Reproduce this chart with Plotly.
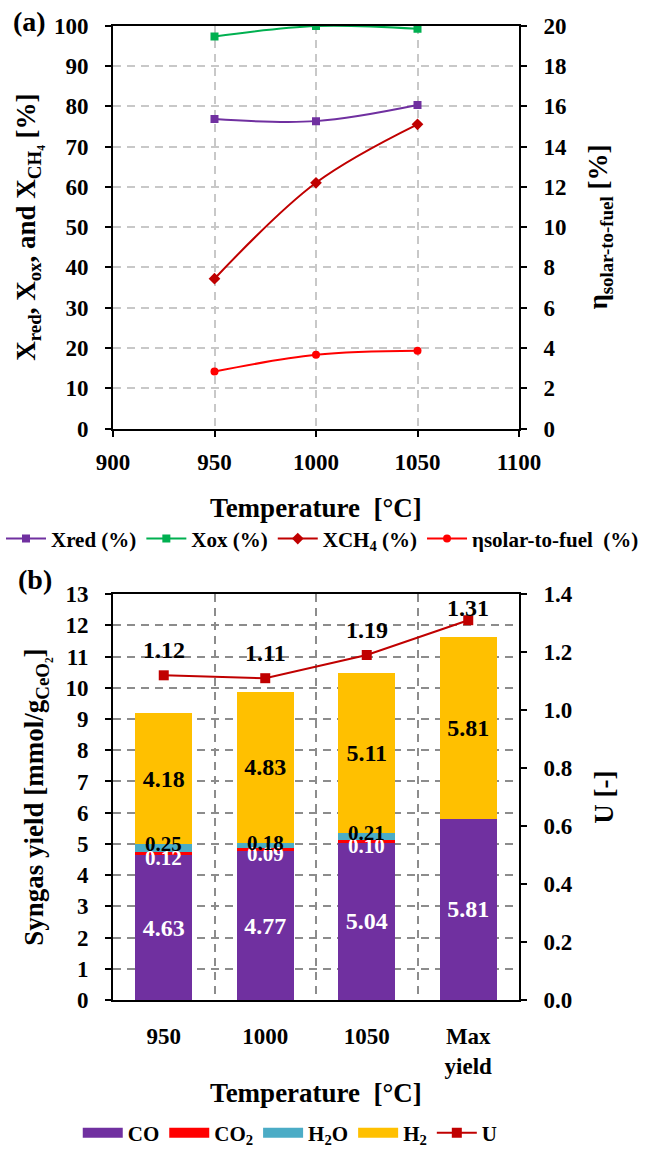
import plotly.graph_objects as go

# ---------------- data: panel (a) ----------------
temps_a = [950, 1000, 1050]
x_red = [76.8, 76.3, 80.3]
x_ox = [97.3, 99.9, 99.2]
x_ch4 = [37.2, 61.0, 75.5]
eta_stf = [2.83, 3.66, 3.86]

# ---------------- data: panel (b) ----------------
cats_b = ["950", "1000", "1050", "Max<br>yield"]
co = [4.63, 4.77, 5.04, 5.81]
co2 = [0.12, 0.09, 0.10, 0.0]
h2o = [0.25, 0.18, 0.21, 0.0]
h2 = [4.18, 4.83, 5.11, 5.81]
u_ratio = [1.12, 1.11, 1.19, 1.31]
u_label_shift = [25, 25, 25, 12]

PURPLE = "#7030A0"
GREEN = "#00B050"
DARKRED = "#C00000"
RED = "#FF0000"
TEAL = "#4BACC6"
GOLD = "#FFC000"
GRID_A = "#C8C8C8"
GRID_B = "#8C8C8C"
FONT = "'Liberation Serif', 'Times New Roman', Times, serif"

xpos = list(range(len(cats_b)))
bounds = [p + 0.5 for p in xpos[:-1]]

fig = go.Figure()

# ---- panel (a) traces ----
fig.add_trace(go.Scatter(x=temps_a, y=x_red, name="Xred (%)", mode="lines+markers",
                         line=dict(color=PURPLE, width=2, shape="spline"),
                         marker=dict(symbol="square", size=8, color=PURPLE),
                         xaxis="x", yaxis="y", legend="legend"))
fig.add_trace(go.Scatter(x=temps_a, y=x_ox, name="Xox (%)", mode="lines+markers",
                         line=dict(color=GREEN, width=2, shape="spline"),
                         marker=dict(symbol="square", size=8, color=GREEN),
                         xaxis="x", yaxis="y", legend="legend"))
fig.add_trace(go.Scatter(x=temps_a, y=x_ch4, name="XCH<sub>4</sub> (%)", mode="lines+markers",
                         line=dict(color=DARKRED, width=2, shape="spline"),
                         marker=dict(symbol="diamond", size=9, color=DARKRED),
                         xaxis="x", yaxis="y", legend="legend"))
fig.add_trace(go.Scatter(x=temps_a, y=eta_stf, name="ηsolar-to-fuel\u00a0 (%)", mode="lines+markers",
                         line=dict(color=RED, width=2, shape="spline"),
                         marker=dict(symbol="circle", size=8, color=RED),
                         xaxis="x", yaxis="y2", legend="legend"))

# ---- panel (b) bars ----
fig.add_trace(go.Bar(x=xpos, y=co, name="CO", marker=dict(color=PURPLE, line=dict(width=0)),
                     text=[f"{v:.2f}" for v in co], textposition="inside",
                     insidetextanchor="middle", textangle=0, constraintext="none",
                     textfont=dict(color="white", size=24, family=FONT, weight="bold"),
                     xaxis="x2", yaxis="y3", showlegend=False))
fig.add_trace(go.Bar(x=xpos, y=co2, name="CO<sub>2</sub>", marker=dict(color=RED, line=dict(width=0)),
                     xaxis="x2", yaxis="y3", showlegend=False))
fig.add_trace(go.Bar(x=xpos, y=h2o, name="H<sub>2</sub>O", marker=dict(color=TEAL, line=dict(width=0)),
                     xaxis="x2", yaxis="y3", showlegend=False))
fig.add_trace(go.Bar(x=xpos, y=h2, name="H<sub>2</sub>", marker=dict(color=GOLD, line=dict(width=0)),
                     text=[f"{v:.2f}" for v in h2], textposition="inside",
                     insidetextanchor="middle", textangle=0, constraintext="none",
                     textfont=dict(color="black", size=24, family=FONT, weight="bold"),
                     xaxis="x2", yaxis="y3", showlegend=False))

# U line on right axis
fig.add_trace(go.Scatter(x=xpos, y=u_ratio, name="U", mode="lines+markers",
                         line=dict(color=DARKRED, width=2),
                         marker=dict(symbol="square", size=10, color=DARKRED),
                         xaxis="x2", yaxis="y4", showlegend=False))

# legend entries for panel (b) (wide colour keys)
for nm, col in [("CO", PURPLE), ("CO<sub>2</sub>", RED), ("H<sub>2</sub>O", TEAL), ("H<sub>2</sub>", GOLD)]:
    fig.add_trace(go.Scatter(x=[None], y=[None], name=nm, mode="lines",
                             line=dict(color=col, width=11),
                             xaxis="x2", yaxis="y3", legend="legend2"))
fig.add_trace(go.Scatter(x=[None], y=[None], name="U", mode="lines+markers",
                         line=dict(color=DARKRED, width=2),
                         marker=dict(symbol="square", size=10, color=DARKRED),
                         xaxis="x2", yaxis="y3", legend="legend2"))

annotations = []
# small-segment labels (CO2 below its segment, H2O at top of its segment)
for p, a, b, w in zip(xpos, co, co2, h2o):
    if b > 0:
        annotations.append(dict(x=p, y=a, xref="x2", yref="y3", text=f"{b:.2f}", showarrow=False,
                                yshift=-3, yanchor="middle",
                                font=dict(size=21, color="white", family=FONT, weight="bold")))
    if w > 0:
        annotations.append(dict(x=p, y=a + b + w, xref="x2", yref="y3", text=f"{w:.2f}", showarrow=False,
                                yshift=0, yanchor="middle",
                                font=dict(size=21, color="black", family=FONT, weight="bold")))
for p, u, s in zip(xpos, u_ratio, u_label_shift):
    annotations.append(dict(x=p, y=u, xref="x2", yref="y4", text=f"{u:.2f}", showarrow=False,
                            yshift=s, font=dict(size=24, color="black", family=FONT, weight="bold")))
annotations.append(dict(x=29 / 645, y=1 - 22 / 1154, xref="paper", yref="paper", text="(a)", showarrow=False,
                        xanchor="center", yanchor="middle",
                        font=dict(size=28, family=FONT, weight="bold")))
annotations.append(dict(x=35 / 645, y=1 - 588 / 1154, xref="paper", yref="paper", text="(b)", showarrow=False,
                        xanchor="center", yanchor="middle",
                        font=dict(size=28, family=FONT, weight="bold")))

XD = [113 / 645, 519 / 645]
YA = [1 - 435 / 1154, 1 - 26 / 1154]
YB = [1 - 1015 / 1154, 1 - 603 / 1154]

TICKFONT = dict(size=23, family=FONT, weight="bold", color="black")
TITLEFONT = dict(size=27, family=FONT, weight="bold", color="black")
common_axis = dict(showline=True, linecolor="black", linewidth=2, ticks="outside", ticklen=6,
                   tickcolor="black", tickwidth=2, zeroline=False, tickfont=TICKFONT, automargin=False)

fig.update_layout(
    width=645, height=1154,
    margin=dict(l=0, r=0, t=0, b=0),
    paper_bgcolor="white", plot_bgcolor="white",
    font=dict(family=FONT, size=18, color="black", weight="bold"),
    barmode="stack", bargap=0.44,
    xaxis=dict(domain=XD, anchor="y", range=[900, 1100], tickvals=[900, 950, 1000, 1050, 1100],
               mirror=True, showgrid=True, gridcolor=GRID_A, griddash="8px,6px", gridwidth=1.5,
               ticklabelstandoff=6,
               title=dict(text="Temperature  [°C]", font=TITLEFONT, standoff=24),
               **common_axis),
    yaxis=dict(domain=YA, anchor="x", range=[0, 100], dtick=10,
               showgrid=True, gridcolor=GRID_A, griddash="8px,6px", gridwidth=1.5,
               ticklabelstandoff=12,
               title=dict(text="X<sub>red</sub>, X<sub>ox</sub>, and X<sub>CH₄</sub> [%]",
                          font=TITLEFONT, standoff=10),
               **common_axis),
    yaxis2=dict(overlaying="y", side="right", anchor="x", range=[0, 20], dtick=2, showgrid=False,
                ticklabelstandoff=12,
                title=dict(text="η<sub>solar-to-fuel</sub> [%]", font=TITLEFONT, standoff=22),
                **common_axis),
    xaxis2=dict(domain=XD, anchor="y3", range=[-0.5, 3.5], tickvals=xpos, ticktext=cats_b,
                mirror=True, showgrid=False,
                minor=dict(tickvals=bounds, showgrid=True, gridcolor=GRID_B, griddash="8px,6px",
                           gridwidth=1.5, ticks=""),
                ticklabelstandoff=14,
                title=dict(text="Temperature  [°C]", font=TITLEFONT, standoff=6),
                **{**common_axis, "ticks": "", "ticklen": 0}),
    yaxis3=dict(domain=YB, anchor="x2", range=[0, 13], dtick=1,
                showgrid=True, gridcolor=GRID_B, griddash="8px,6px", gridwidth=1.5,
                ticklabelstandoff=12,
                title=dict(text="Syngas yield [mmol/g<sub>CeO₂</sub>]", font=TITLEFONT, standoff=14),
                **common_axis),
    yaxis4=dict(overlaying="y3", side="right", anchor="x2", range=[0, 1.4], dtick=0.2, tickformat=".1f",
                showgrid=False, ticklabelstandoff=12,
                title=dict(text="U [-]", font=TITLEFONT, standoff=22),
                **common_axis),
    legend=dict(orientation="h", x=0.5, xanchor="center", y=1 - 547 / 1154, yanchor="middle",
                font=dict(size=21, family=FONT, weight="bold"), itemwidth=40, traceorder="normal",
                bgcolor="rgba(0,0,0,0)"),
    legend2=dict(orientation="h", x=0.45, xanchor="center", y=1 - 1150 / 1154, yanchor="middle",
                 font=dict(size=21, family=FONT, weight="bold"), itemwidth=40, traceorder="normal",
                 bgcolor="rgba(0,0,0,0)"),
    annotations=annotations,
)

fig.write_html("out.html")
